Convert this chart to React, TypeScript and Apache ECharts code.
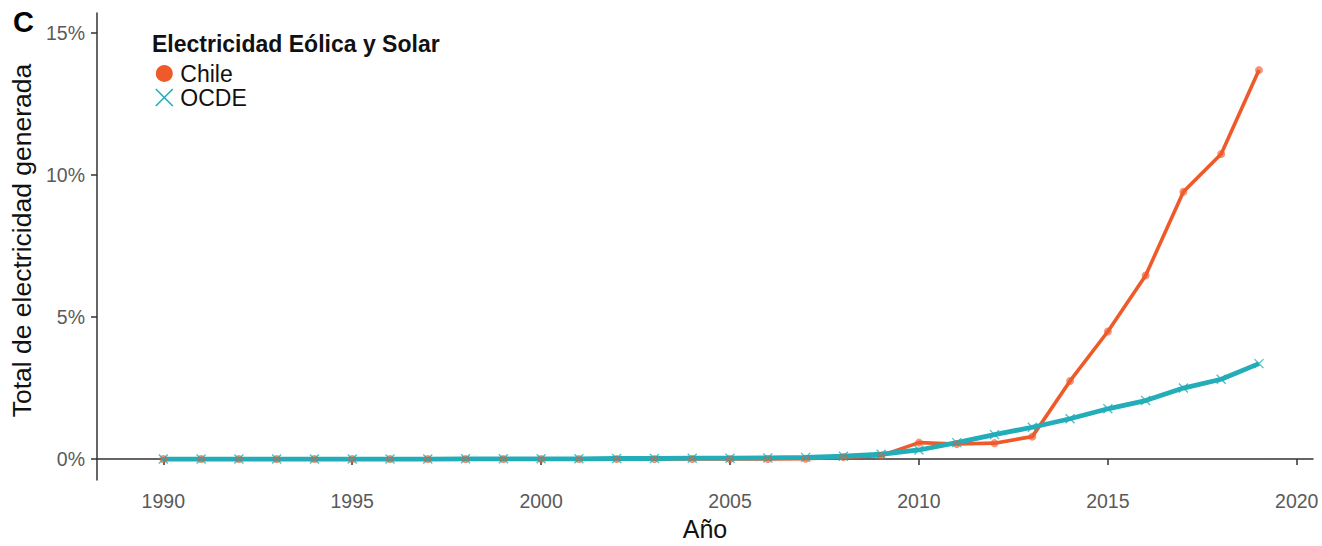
import React, { useEffect, useRef } from "react";
import * as echarts from "echarts";

const years = [
  1990, 1991, 1992, 1993, 1994, 1995, 1996, 1997, 1998, 1999,
  2000, 2001, 2002, 2003, 2004, 2005, 2006, 2007, 2008, 2009,
  2010, 2011, 2012, 2013, 2014, 2015, 2016, 2017, 2018, 2019,
];
const chile = [
  0, 0, 0, 0, 0, 0, 0, 0, 0, 0,
  0, 0, 0, 0, 0, 0, 0, 0.01, 0.07, 0.12,
  0.58, 0.53, 0.56, 0.79, 2.75, 4.49, 6.46, 9.41, 10.74, 13.69,
];
const ocde = [
  0, 0, 0, 0, 0, 0, 0, 0, 0.01, 0.01,
  0.01, 0.01, 0.02, 0.02, 0.03, 0.03, 0.04, 0.06, 0.1, 0.17,
  0.32, 0.58, 0.86, 1.12, 1.42, 1.77, 2.06, 2.5, 2.81, 3.36,
];
const xTicks = [1990, 1995, 2000, 2005, 2010, 2015, 2020];
const yTicks = [0, 5, 10, 15];
const seriesNames = ["Chile", "OCDE"];
const legendTitle = "Electricidad Eólica y Solar";
const panelTag = "C";
const xTitle = "Año";
const yTitle = "Total de electricidad generada";

const RED = "#EE5A2A";
const CYAN = "#22ADB8";
const CROSS = "path://M0,0L10,10M10,0L0,10";
const FONT = "'Liberation Sans', Arial, sans-serif";

export default function App() {
  const ref = useRef<HTMLDivElement>(null);
  useEffect(() => {
    if (!ref.current) return;
    const chart = echarts.init(ref.current, undefined, { renderer: "svg" });
    const chilePts = years.map((y, i) => [y, chile[i]]);
    const ocdePts = years.map((y, i) => [y, ocde[i]]);
    chart.setOption({
      animation: false,
      backgroundColor: "#ffffff",
      textStyle: { fontFamily: FONT },
      grid: { left: 97, right: 9, top: 13, bottom: 59, containLabel: false },
      xAxis: {
        type: "value",
        min: 1988.245,
        max: 2020.43,
        name: xTitle,
        nameLocation: "middle",
        nameGap: 31,
        nameTextStyle: { fontSize: 25, color: "#111111", fontFamily: FONT },
        axisLine: { show: true, lineStyle: { color: "#333333", width: 1.5 } },
        axisTick: {
          show: true,
          length: 6,
          customValues: xTicks,
          lineStyle: { color: "#333333", width: 1.5 },
        },
        axisLabel: {
          customValues: xTicks,
          fontSize: 19.5,
          color: "#5a5a5a",
          margin: 11,
          formatter: (v: number) => String(v),
        },
        splitLine: { show: false },
      },
      yAxis: {
        type: "value",
        min: -0.74,
        max: 15.7,
        name: yTitle,
        nameLocation: "middle",
        nameRotate: 90,
        nameGap: 59,
        nameTextStyle: {
          fontSize: 26.5,
          color: "#111111",
          fontFamily: FONT,
          padding: [0, 0, 0, 12],
        },
        axisLine: { show: true, lineStyle: { color: "#333333", width: 1.5 } },
        axisTick: {
          show: true,
          length: 6,
          customValues: yTicks,
          lineStyle: { color: "#333333", width: 1.5 },
        },
        axisLabel: {
          customValues: yTicks,
          fontSize: 19.5,
          color: "#5a5a5a",
          margin: 12,
          formatter: (v: number) => `${v}%`,
        },
        splitLine: { show: false },
      },
      legend: {
        orient: "vertical",
        left: 155,
        top: 62,
        padding: 0,
        itemWidth: 22,
        itemHeight: 17,
        itemGap: 1,
        textStyle: { fontSize: 23, color: "#111111", fontFamily: FONT },
        data: [
          { name: seriesNames[0], icon: "circle", itemStyle: { color: RED, opacity: 1 } },
          {
            name: seriesNames[1],
            icon: CROSS,
            itemStyle: { color: CYAN, borderColor: CYAN, borderWidth: 1.6, opacity: 1 },
          },
        ],
      },
      graphic: [
        {
          type: "text",
          left: 13,
          top: 7,
          style: { text: panelTag, fontSize: 29, fontWeight: "bold", fill: "#000000", fontFamily: FONT },
        },
        {
          type: "text",
          left: 152,
          top: 32,
          style: { text: legendTitle, fontSize: 23, fontWeight: "bold", fill: "#111111", fontFamily: FONT },
        },
      ],
      series: [
        {
          name: seriesNames[0],
          type: "scatter",
          data: chilePts,
          symbol: "circle",
          symbolSize: 8,
          itemStyle: { color: RED, opacity: 0.65 },
          z: 4,
          clip: false,
        },
        {
          name: seriesNames[1],
          type: "scatter",
          data: ocdePts,
          symbol: CROSS,
          symbolSize: 9,
          itemStyle: { color: CYAN, borderColor: CYAN, borderWidth: 1.3 },
          z: 5,
          clip: false,
        },
        {
          name: seriesNames[0] + " línea",
          type: "line",
          data: chilePts,
          showSymbol: false,
          symbol: "none",
          lineStyle: { color: RED, width: 3.6 },
          itemStyle: { color: RED },
          z: 2,
        },
        {
          name: seriesNames[1] + " línea",
          type: "line",
          data: ocdePts,
          showSymbol: false,
          symbol: "none",
          lineStyle: { color: CYAN, width: 4.8 },
          itemStyle: { color: CYAN },
          z: 3,
        },
      ],
    });
    return () => chart.dispose();
  }, []);
  return (
    <div
      ref={ref}
      style={{ position: "fixed", left: 0, top: 0, width: 1322, height: 546, background: "#fff" }}
    />
  );
}
